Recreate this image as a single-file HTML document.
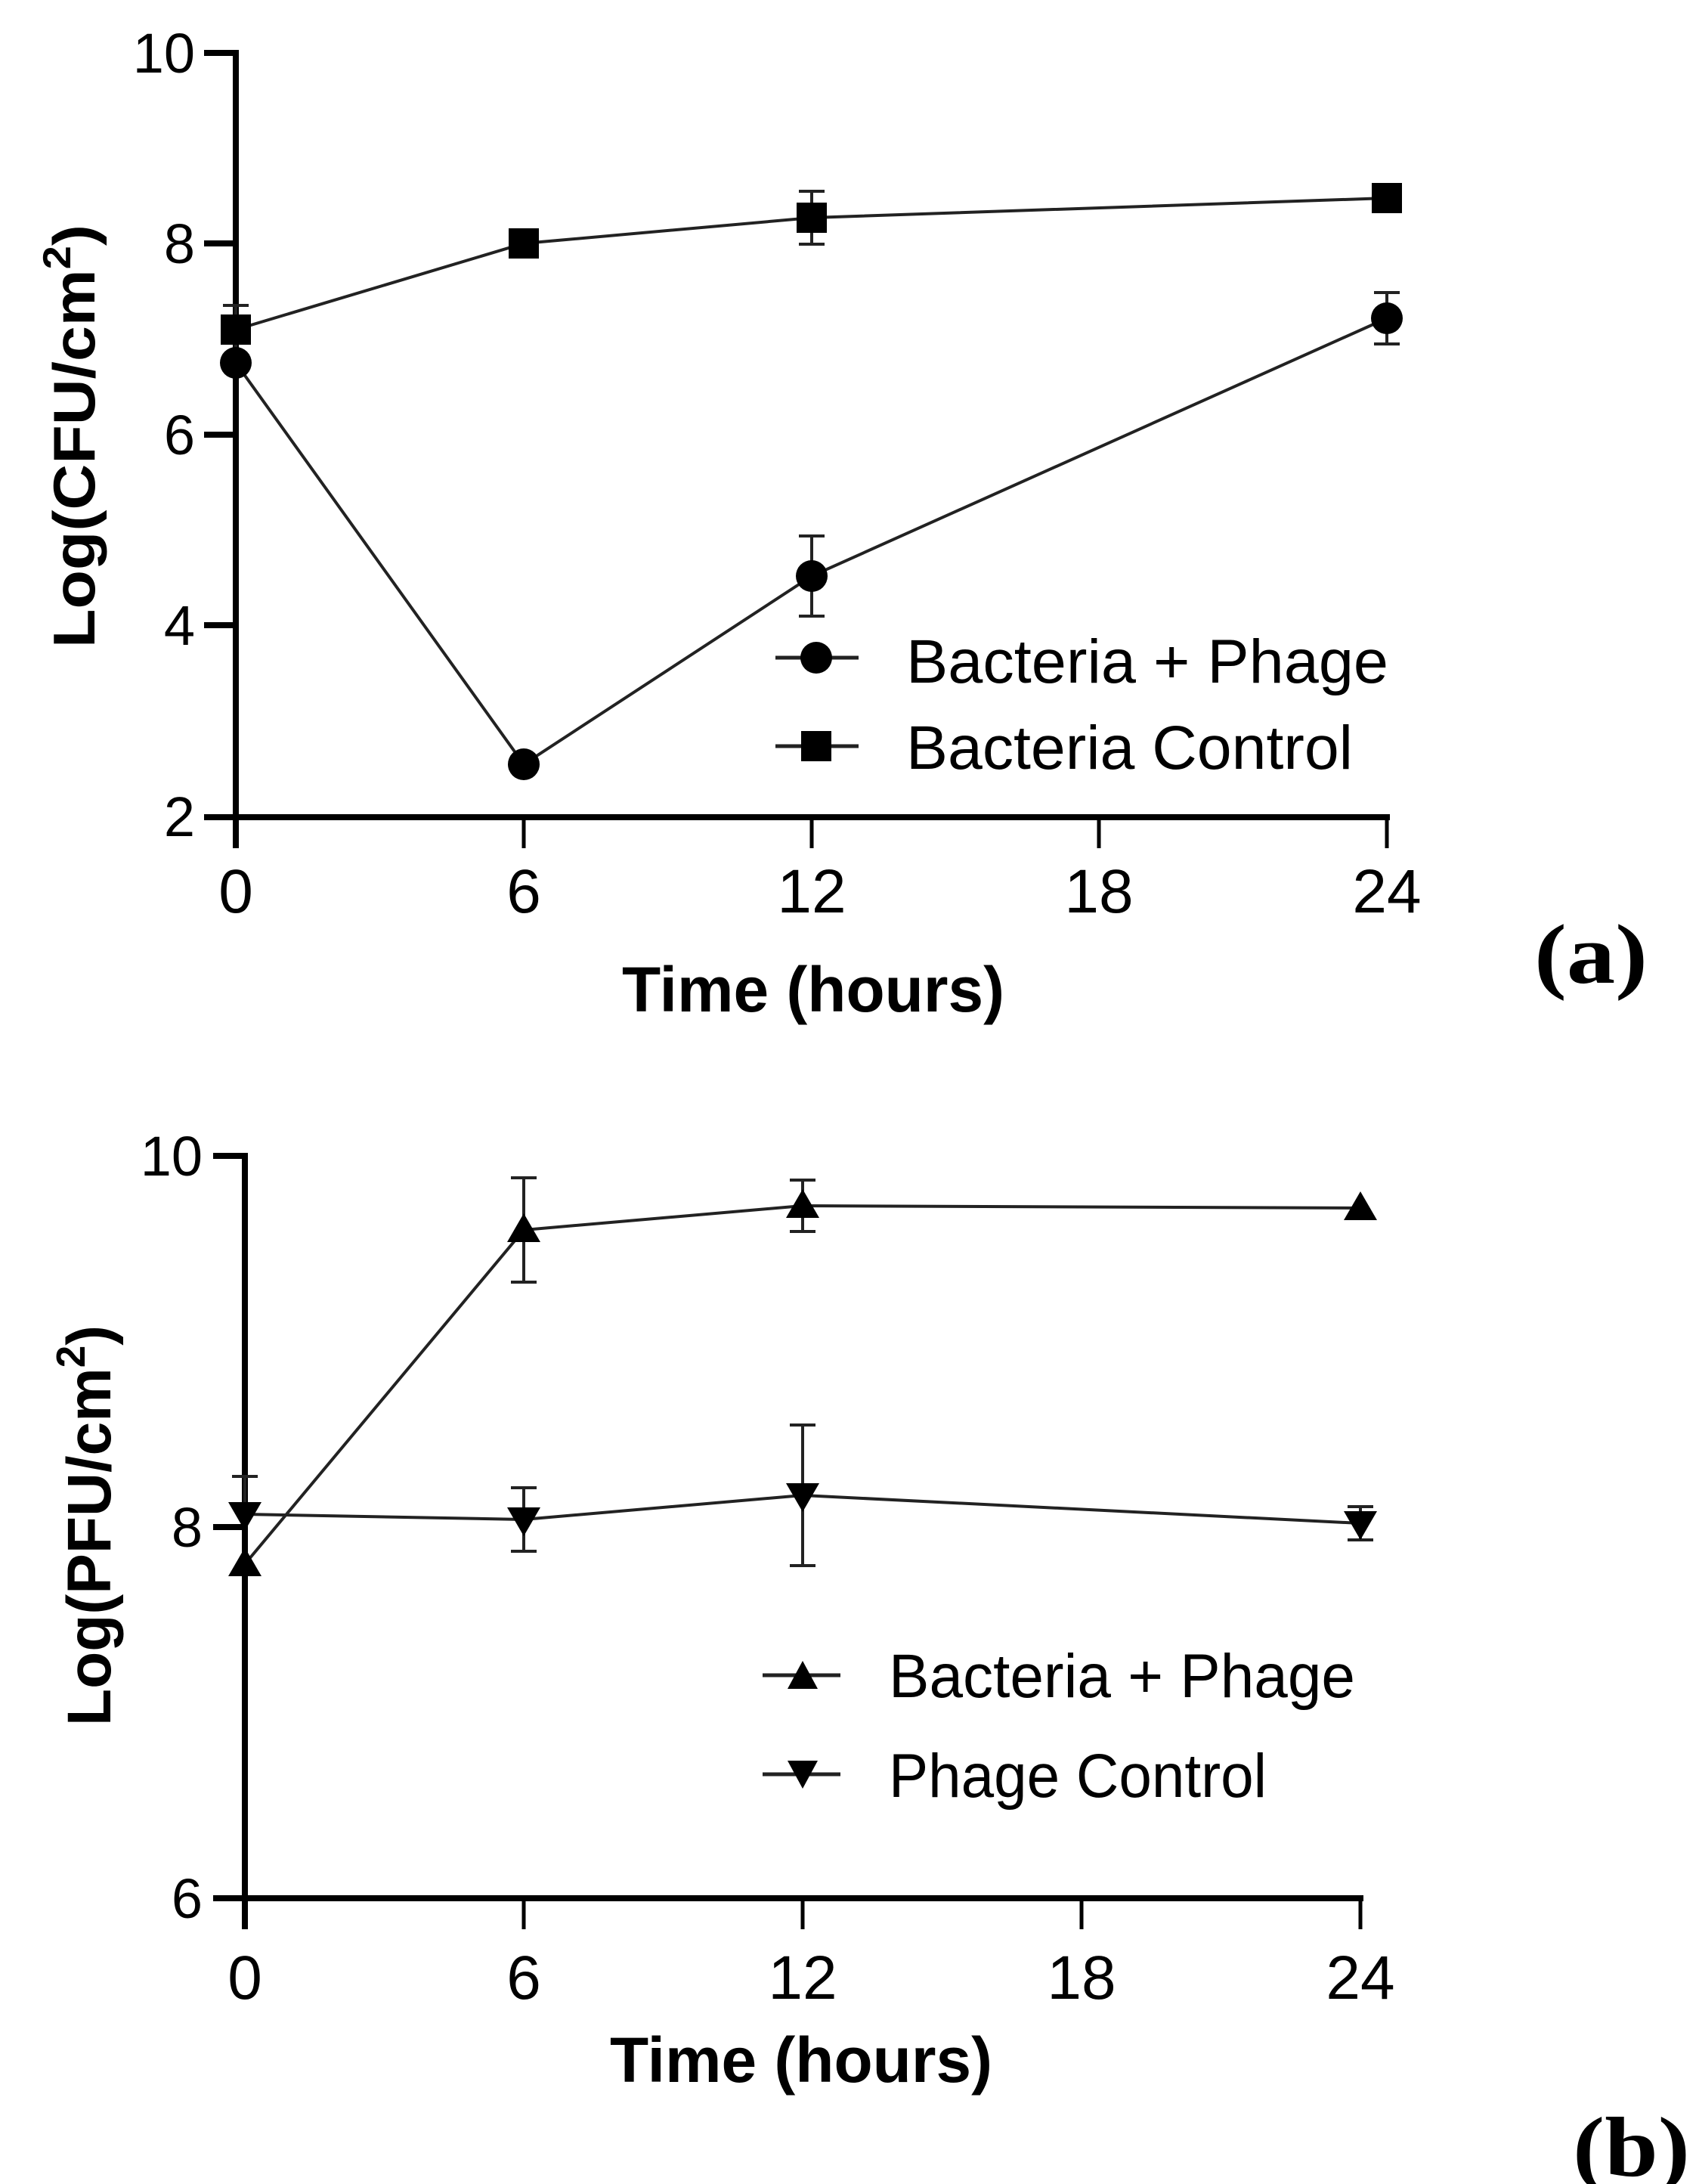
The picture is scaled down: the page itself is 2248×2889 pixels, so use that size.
<!DOCTYPE html>
<html><head><meta charset="utf-8"><style>
html,body{margin:0;padding:0;background:#fff;}
svg{display:block;}
text{font-family:"Liberation Sans",Arial,sans-serif;fill:#000;}
</style></head><body>
<svg width="2248" height="2889" viewBox="0 0 2248 2889" xmlns="http://www.w3.org/2000/svg">
<rect width="2248" height="2889" fill="#fff"/>
<!-- ===== Panel A ===== -->
<g stroke="#000" stroke-width="8" fill="none">
  <line x1="312" y1="66" x2="312" y2="1122"/>
  <line x1="270" y1="1081" x2="1839" y2="1081"/>
  <line x1="270" y1="70" x2="312" y2="70"/>
  <line x1="270" y1="322" x2="312" y2="322"/>
  <line x1="270" y1="575" x2="312" y2="575"/>
  <line x1="270" y1="827" x2="312" y2="827"/>
</g>
<g stroke="#000" stroke-width="5">
  <line x1="693" y1="1081" x2="693" y2="1122"/>
  <line x1="1074" y1="1081" x2="1074" y2="1122"/>
  <line x1="1454" y1="1081" x2="1454" y2="1122"/>
  <line x1="1835" y1="1081" x2="1835" y2="1122"/>
</g>
<g font-size="74" text-anchor="end">
  <text x="258" y="96">10</text>
  <text x="258" y="348">8</text>
  <text x="258" y="601">6</text>
  <text x="258" y="853">4</text>
  <text x="258" y="1106">2</text>
</g>
<g font-size="82" text-anchor="middle">
  <text x="312" y="1207">0</text>
  <text x="693" y="1207">6</text>
  <text x="1074" y="1207">12</text>
  <text x="1454" y="1207">18</text>
  <text x="1835" y="1207">24</text>
</g>
<text x="1076" y="1338" font-size="84" font-weight="bold" text-anchor="middle" textLength="506" lengthAdjust="spacingAndGlyphs">Time (hours)</text>
<text x="2030" y="1300" font-size="112" font-weight="bold" style="font-family:'Liberation Serif',serif" textLength="150" lengthAdjust="spacingAndGlyphs">(a)</text>
<text transform="translate(125,577) rotate(-90)" font-size="78" font-weight="bold" text-anchor="middle" textLength="560" lengthAdjust="spacingAndGlyphs">Log(CFU/cm<tspan font-size="52" dy="-32">2</tspan><tspan dy="32">)</tspan></text>
<!-- series A -->
<g stroke="#222" stroke-width="4" fill="none">
  <polyline points="312,436 693,322 1074,288 1835,262"/>
  <polyline points="312,480 693,1011 1074,762 1835,421"/>
  <line x1="1074" y1="253" x2="1074" y2="323"/><line x1="1057" y1="253" x2="1091" y2="253"/><line x1="1057" y1="323" x2="1091" y2="323"/>
  <line x1="1835" y1="249" x2="1835" y2="275"/><line x1="1818" y1="249" x2="1852" y2="249"/><line x1="1818" y1="275" x2="1852" y2="275"/>
  <line x1="312" y1="404" x2="312" y2="468"/><line x1="295" y1="404" x2="329" y2="404"/>
  <line x1="1074" y1="709" x2="1074" y2="815"/><line x1="1057" y1="709" x2="1091" y2="709"/><line x1="1057" y1="815" x2="1091" y2="815"/>
  <line x1="1835" y1="387" x2="1835" y2="455"/><line x1="1818" y1="387" x2="1852" y2="387"/><line x1="1818" y1="455" x2="1852" y2="455"/>
</g>
<g fill="#000">
  <rect x="292" y="416" width="40" height="40"/>
  <rect x="673" y="302" width="40" height="40"/>
  <rect x="1054" y="268" width="40" height="40"/>
  <rect x="1815" y="242" width="40" height="40"/>
  <circle cx="312" cy="480" r="21"/>
  <circle cx="693" cy="1011" r="21"/>
  <circle cx="1074" cy="762" r="21"/>
  <circle cx="1835" cy="421" r="21"/>
</g>
<!-- legend A -->
<g stroke="#222" stroke-width="5"><line x1="1026" y1="870" x2="1136" y2="870"/><line x1="1026" y1="987" x2="1136" y2="987"/></g>
<circle cx="1080" cy="870" r="21" fill="#000"/>
<rect x="1060" y="967" width="40" height="40" fill="#000"/>
<text x="1199" y="903" font-size="82" textLength="638" lengthAdjust="spacingAndGlyphs">Bacteria + Phage</text>
<text x="1199" y="1017" font-size="82" textLength="591" lengthAdjust="spacingAndGlyphs">Bacteria Control</text>

<!-- ===== Panel B ===== -->
<g stroke="#000" stroke-width="8" fill="none">
  <line x1="324" y1="1525" x2="324" y2="2552"/>
  <line x1="282" y1="2511" x2="1804" y2="2511"/>
  <line x1="282" y1="1529" x2="324" y2="1529"/>
  <line x1="282" y1="2020" x2="324" y2="2020"/>
</g>
<g stroke="#000" stroke-width="5">
  <line x1="693" y1="2511" x2="693" y2="2552"/>
  <line x1="1062" y1="2511" x2="1062" y2="2552"/>
  <line x1="1431" y1="2511" x2="1431" y2="2552"/>
  <line x1="1800" y1="2511" x2="1800" y2="2552"/>
</g>
<g font-size="74" text-anchor="end">
  <text x="268" y="1555">10</text>
  <text x="268" y="2046">8</text>
  <text x="268" y="2537">6</text>
</g>
<g font-size="82" text-anchor="middle">
  <text x="324" y="2644">0</text>
  <text x="693" y="2644">6</text>
  <text x="1062" y="2644">12</text>
  <text x="1431" y="2644">18</text>
  <text x="1800" y="2644">24</text>
</g>
<text x="1060" y="2754" font-size="84" font-weight="bold" text-anchor="middle" textLength="506" lengthAdjust="spacingAndGlyphs">Time (hours)</text>
<text x="2081" y="2878" font-size="112" font-weight="bold" style="font-family:'Liberation Serif',serif" textLength="155" lengthAdjust="spacingAndGlyphs">(b)</text>
<text transform="translate(146,2018) rotate(-90)" font-size="82" font-weight="bold" text-anchor="middle" textLength="530" lengthAdjust="spacingAndGlyphs">Log(PFU/cm<tspan font-size="54" dy="-34">2</tspan><tspan dy="34">)</tspan></text>
<!-- series B -->
<g stroke="#222" stroke-width="4" fill="none">
  <polyline points="324,2069 693,1627 1062,1595 1800,1598"/>
  <polyline points="324,2003 693,2010 1062,1978 1800,2015"/>
  <line x1="693" y1="1558" x2="693" y2="1696"/><line x1="676" y1="1558" x2="710" y2="1558"/><line x1="676" y1="1696" x2="710" y2="1696"/>
  <line x1="1062" y1="1561" x2="1062" y2="1629"/><line x1="1045" y1="1561" x2="1079" y2="1561"/><line x1="1045" y1="1629" x2="1079" y2="1629"/>
  <line x1="324" y1="1953" x2="324" y2="2003"/><line x1="307" y1="1953" x2="341" y2="1953"/>
  <line x1="693" y1="1968" x2="693" y2="2052"/><line x1="676" y1="1968" x2="710" y2="1968"/><line x1="676" y1="2052" x2="710" y2="2052"/>
  <line x1="1062" y1="1885" x2="1062" y2="2071"/><line x1="1045" y1="1885" x2="1079" y2="1885"/><line x1="1045" y1="2071" x2="1079" y2="2071"/>
  <line x1="1800" y1="1993" x2="1800" y2="2037"/><line x1="1783" y1="1993" x2="1817" y2="1993"/><line x1="1783" y1="2037" x2="1817" y2="2037"/>
</g>
<g fill="#000">
  <polygon points="324,2047 302,2085 346,2085"/>
  <polygon points="693,1605 671,1643 715,1643"/>
  <polygon points="1062,1573 1040,1611 1084,1611"/>
  <polygon points="1800,1576 1778,1614 1822,1614"/>
  <polygon points="324,2025 302,1987 346,1987"/>
  <polygon points="693,2032 671,1994 715,1994"/>
  <polygon points="1062,2000 1040,1962 1084,1962"/>
  <polygon points="1800,2037 1778,1999 1822,1999"/>
</g>
<!-- legend B -->
<g stroke="#222" stroke-width="5"><line x1="1009" y1="2216" x2="1112" y2="2216"/><line x1="1009" y1="2347" x2="1112" y2="2347"/></g>
<polygon points="1062,2197 1042,2234 1082,2234" fill="#000"/>
<polygon points="1062,2366 1042,2329 1082,2329" fill="#000"/>
<text x="1176" y="2245" font-size="82" textLength="617" lengthAdjust="spacingAndGlyphs">Bacteria + Phage</text>
<text x="1176" y="2377" font-size="82" textLength="500" lengthAdjust="spacingAndGlyphs">Phage Control</text>
</svg>
</body></html>
